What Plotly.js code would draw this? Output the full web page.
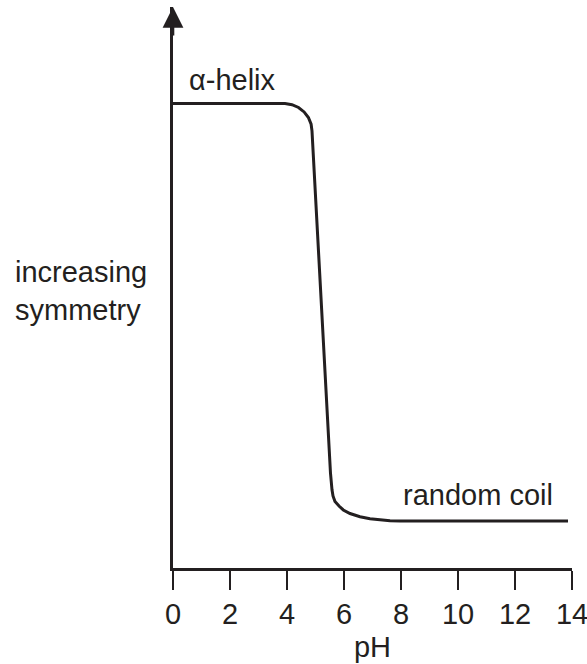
<!DOCTYPE html>
<html>
<head>
<meta charset="utf-8">
<script src="https://cdn.plot.ly/plotly-3.0.1.min.js"></script>
<style>html,body{margin:0;padding:0;background:#fff;}#chart{width:587px;height:664px;}</style>
</head>
<body>
<div id="chart"></div>
<script>
// pH values along the curve
var pH = [0, 3.93, 4.175, 4.404, 4.60, 4.751, 4.846, 4.877, 5.526, 5.551, 5.579, 5.614, 5.684, 5.825, 5.975, 6.211, 6.561, 6.912, 7.263, 7.614, 7.965, 13.86];
// relative symmetry (arbitrary units)
var symmetry = [83.2, 83.2, 83.0, 82.5, 81.7, 80.7, 79.5, 78.3, 17.0, 15.2, 14.0, 12.9, 11.9, 11.1, 10.4, 9.76, 9.19, 8.83, 8.60, 8.47, 8.42, 8.42];
var tickVals = [0, 2, 4, 6, 8, 10, 12, 14];
var tickText = ['0', '2', '4', '6', '8', '10', '12', '14'];
var labelHelix = '\u03b1-helix';
var labelCoil = 'random coil';
var yLabel = 'increasing<br>symmetry';
var xLabel = 'pH';

var ink = '#231f20';
var fnt = {family: 'Liberation Sans, Arial, sans-serif', size: 29, color: ink};

var trace = {
  x: pH, y: symmetry, type: 'scatter', mode: 'lines',
  line: {color: ink, width: 3},
  hoverinfo: 'none', cliponaxis: false
};

var layout = {
  width: 587, height: 664,
  margin: {l: 173, r: 15, t: 7, b: 96},
  paper_bgcolor: '#fff', plot_bgcolor: '#fff',
  showlegend: false,
  xaxis: {
    range: [0, 14], tickvals: tickVals, ticktext: tickText,
    showline: true, linecolor: ink, linewidth: 2.6,
    ticks: 'outside', ticklen: 19, tickwidth: 2.6, tickcolor: ink,
    showgrid: false, zeroline: false, tickfont: fnt,
    ticklabeloverflow: 'allow',
    title: {text: xLabel, font: fnt, standoff: 8}
  },
  yaxis: {
    range: [0, 100.5], showline: true, linecolor: ink, linewidth: 2.6,
    showticklabels: false, ticks: '', showgrid: false, zeroline: false
  },
  annotations: [
    {x: 0, y: 100.5, xref: 'x', yref: 'y', ax: 0, ay: 30, showarrow: true, text: '',
     arrowhead: 2, arrowsize: 1.6, arrowwidth: 2.6, arrowcolor: ink},
    {x: 0.5, y: 87.4, xref: 'x', yref: 'y', text: labelHelix, showarrow: false,
     xanchor: 'left', yanchor: 'middle', font: fnt},
    {x: 8.0, y: 13.1, xref: 'x', yref: 'y', text: labelCoil, showarrow: false,
     xanchor: 'left', yanchor: 'middle', font: fnt},
    {x: -0.401, y: 49.6, xref: 'paper', yref: 'y', text: yLabel, showarrow: false,
     xanchor: 'left', yanchor: 'middle', align: 'left', font: fnt}
  ]
};

Plotly.newPlot('chart', [trace], layout, {staticPlot: true, displayModeBar: false});
</script>
</body>
</html>
